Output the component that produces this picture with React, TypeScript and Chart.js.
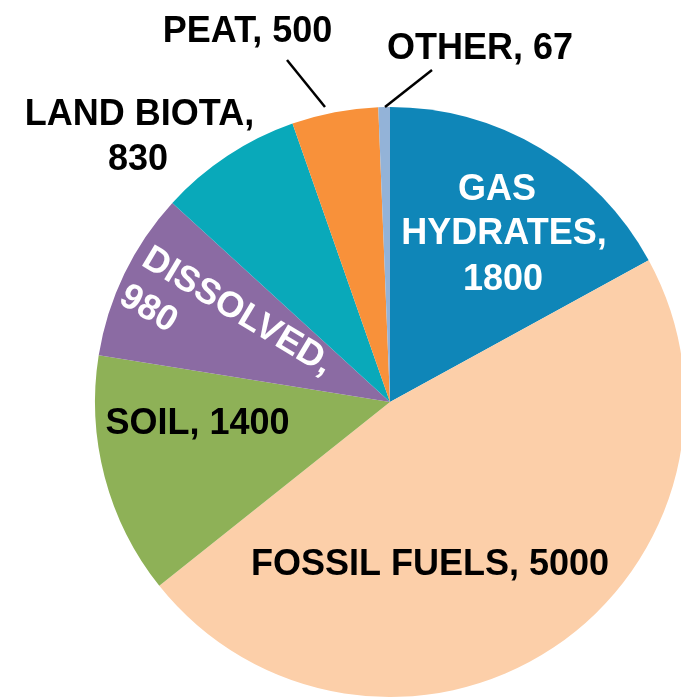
import React, { useEffect, useRef } from "react";
import { Chart, registerables } from "chart.js";

Chart.register(...registerables);

// ---- data ----
const categories = ["GAS HYDRATES", "FOSSIL FUELS", "SOIL", "DISSOLVED", "LAND BIOTA", "PEAT", "OTHER"];
const values = [1800, 5000, 1400, 980, 830, 500, 67];
const colors = ["#0F86B8", "#FCCFA9", "#8EB157", "#8B6BA3", "#09A9BA", "#F8913A", "#93B3D8"];

// ---- label layout (offsets relative to pie centre) ----
type LabelSpec = {
  mode: "one" | "two" | "words";
  color: string;
  align: CanvasTextAlign;
  rotate: number; // degrees
  lineGap: number;
  pos: [number, number][]; // per line: dx, dy of baseline anchor
  leader?: [number, number, number, number];
};

const labelSpecs: LabelSpec[] = [
  { mode: "words", color: "#ffffff", align: "center", rotate: 0, lineGap: 0, pos: [[107, -202.5], [114, -158.5], [113, -112.5]] },
  { mode: "one", color: "#000000", align: "center", rotate: 0, lineGap: 0, pos: [[40, 173]] },
  { mode: "one", color: "#000000", align: "center", rotate: 0, lineGap: 0, pos: [[-192.5, 31.5]] },
  { mode: "two", color: "#ffffff", align: "left", rotate: 31, lineGap: 44, pos: [[-250, -137.5]] },
  { mode: "two", color: "#000000", align: "center", rotate: 0, lineGap: 0, pos: [[-250.5, -277.5], [-252, -232.5]] },
  { mode: "one", color: "#000000", align: "center", rotate: 0, lineGap: 0, pos: [[-142.5, -360.5]], leader: [-103, -342, -65, -295] },
  { mode: "one", color: "#000000", align: "center", rotate: 0, lineGap: 0, pos: [[90, -343]], leader: [42, -332, -5, -295] },
];

function labelLines(i: number): string[] {
  const cat = categories[i];
  const val = String(values[i]);
  const mode = labelSpecs[i].mode;
  if (mode === "one") return [`${cat}, ${val}`];
  if (mode === "two") return [`${cat},`, val];
  const words = cat.split(" ");
  words[words.length - 1] = words[words.length - 1] + ",";
  return [...words, val];
}

const FONT = 'bold 36px "Liberation Sans", Arial, Helvetica, sans-serif';

const labelPlugin = {
  id: "sliceLabels",
  afterDatasetsDraw(chart: any) {
    const meta = chart.getDatasetMeta(0);
    const ctx: CanvasRenderingContext2D = chart.ctx;
    if (!meta.data.length) return;
    const cx = meta.data[0].x;
    const cy = meta.data[0].y;
    ctx.save();
    ctx.font = FONT;
    ctx.textBaseline = "alphabetic";
    labelSpecs.forEach((spec, i) => {
      const lines = labelLines(i);
      if (spec.leader) {
        const [x1, y1, x2, y2] = spec.leader;
        ctx.beginPath();
        ctx.moveTo(cx + x1, cy + y1);
        ctx.lineTo(cx + x2, cy + y2);
        ctx.strokeStyle = "#000000";
        ctx.lineWidth = 2.5;
        ctx.stroke();
      }
      ctx.fillStyle = spec.color;
      ctx.textAlign = spec.align;
      if (spec.rotate) {
        const [dx, dy] = spec.pos[0];
        ctx.save();
        ctx.translate(cx + dx, cy + dy);
        ctx.rotate((spec.rotate * Math.PI) / 180);
        lines.forEach((t, k) => ctx.fillText(t, 0, k * spec.lineGap));
        ctx.restore();
      } else {
        lines.forEach((t, k) => {
          const [dx, dy] = spec.pos[k];
          ctx.fillText(t, cx + dx, cy + dy);
        });
      }
    });
    ctx.restore();
  },
};

export default function App() {
  const ref = useRef<HTMLCanvasElement | null>(null);
  useEffect(() => {
    if (!ref.current) return;
    const chart = new Chart(ref.current, {
      type: "pie",
      data: {
        labels: categories,
        datasets: [
          {
            data: values,
            backgroundColor: colors,
            borderWidth: 0,
            hoverOffset: 0,
          },
        ],
      },
      options: {
        responsive: false,
        maintainAspectRatio: false,
        animation: false,
        devicePixelRatio: 1,
        layout: { padding: { left: 95, top: 107, right: 0, bottom: 0 } },
        plugins: {
          legend: { display: false },
          tooltip: { enabled: false },
        },
      },
      plugins: [labelPlugin],
    });
    return () => chart.destroy();
  }, []);
  return (
    <div
      style={{
        position: "fixed",
        left: 0,
        top: 0,
        width: 681,
        height: 700,
        overflow: "hidden",
        background: "#ffffff",
      }}
    >
      <canvas ref={ref} width={685} height={697} style={{ display: "block" }} />
    </div>
  );
}
